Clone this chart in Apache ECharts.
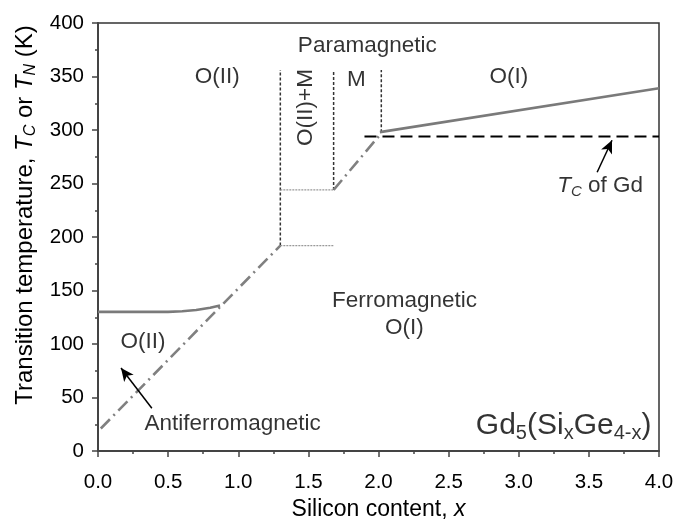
<!DOCTYPE html>
<html>
<head>
<meta charset="utf-8">
<script src="https://cdn.jsdelivr.net/npm/echarts@6/dist/echarts.min.js"></script>
<style>
  html, body { margin: 0; padding: 0; background: #fff; }
  #chart { width: 674px; height: 523px; }
</style>
</head>
<body>
<div id="chart"></div>
<script>
// Phase boundaries of Gd5(SixGe4-x): x = Si content, y = temperature (K)
const afmBoundary      = [[0.0, 130], [0.5, 130], [0.6, 130.6], [0.7, 131.8], [0.8, 133.8], [0.87, 136]];
const lowerTransition  = [[0.02, 21], [1.3, 192]];
const upperTransition  = [[1.68, 244], [2.02, 297]];
const oiBoundary       = [[2.01, 298], [4.0, 339]];
const gdCurie          = [[1.9, 294], [4.0, 294]];
const phaseEdgeX       = [1.3, 1.68, 2.02];
const phaseEdgeBottom  = [192, 244, 298];
const phaseEdgeTop     = 356;
const mixedStepY       = [192, 244];
const xTickLabels      = ['0.0', '0.5', '1.0', '1.5', '2.0', '2.5', '3.0', '3.5', '4.0'];
const yTickLabels      = ['0', '50', '100', '150', '200', '250', '300', '350', '400'];

const FONT = '"Liberation Sans", Arial, Helvetica, sans-serif';

function richFor(size) {
  const sub = { fontSize: Math.round(size * 0.66), fontFamily: FONT, color: '#000',
                padding: [Math.round(size * 0.52), 0, 0, 0] };
  return {
    i:    { fontSize: size, fontStyle: 'italic', fontFamily: FONT, color: '#000' },
    isub: Object.assign({}, sub, { fontStyle: 'italic' }),
    sub:  sub
  };
}

// Text annotations placed in data coordinates
const notes = [
  { at: [1.92, 379], text: 'Paramagnetic' },
  { at: [0.85, 350], text: 'O(II)' },
  { at: [1.48, 321], text: 'O(II)+M', rotate: 90 },
  { at: [1.843, 347], text: 'M' },
  { at: [2.93, 350], text: 'O(I)' },
  { at: [2.185, 128], text: 'Ferromagnetic\nO(I)', lineHeight: 27 },
  { at: [0.32, 102], text: 'O(II)' },
  { at: [0.96, 25], text: 'Antiferromagnetic' },
  { at: [3.58, 248], text: '{i|T}{isub|C} of Gd' },
  { at: [3.32, 24], text: 'Gd{sub|5}(Si{sub|x}Ge{sub|4-x})', size: 30 }
];

const arrows = [
  [[0.384, 40], [0.164, 77.5]],
  [[3.559, 260.5], [3.665, 290.4]]
];

const dotted = { color: '#333', width: 1.5, type: [3, 2] };
const series = [];

function addLine(data, lineStyle, z) {
  series.push({
    type: 'line', data: data, showSymbol: false, symbol: 'none',
    lineStyle: lineStyle, z: z || 3, silent: true, animation: false
  });
}

// vertical phase edges
phaseEdgeX.forEach((x, k) => addLine([[x, phaseEdgeBottom[k]], [x, phaseEdgeTop]], dotted, 2));
// fine steps between the two transition lines
mixedStepY.forEach(y => addLine([[phaseEdgeX[0], y], [phaseEdgeX[1], y]],
  { color: '#999', width: 1.2, type: [2, 1] }, 2));

addLine(afmBoundary, { color: '#7a7a7a', width: 2.6 });
addLine(oiBoundary, { color: '#7a7a7a', width: 2.6 });
addLine(lowerTransition, { color: '#808080', width: 2.6, type: [13, 5, 2, 5] });
addLine(upperTransition, { color: '#808080', width: 2.6, type: [13, 5, 2, 5] });
addLine(gdCurie, { color: '#000', width: 2, type: [12, 6] }, 4);

// arrows
series.push({
  type: 'line', data: [], silent: true, animation: false,
  markLine: {
    silent: true, animation: false,
    symbol: ['none', 'arrow'], symbolSize: [9, 13],
    label: { show: false },
    lineStyle: { color: '#000', width: 1.5, type: 'solid' },
    data: arrows.map(a => [{ coord: a[0] }, { coord: a[1] }])
  }
});

// annotation text
notes.forEach(n => {
  const size = n.size || 22.5;
  series.push({
    type: 'scatter', data: [n.at], symbolSize: 0, silent: true, animation: false, z: 10,
    label: {
      show: true, position: 'inside', formatter: n.text,
      rotate: n.rotate || 0,
      fontFamily: FONT, fontSize: size, color: '#000',
      lineHeight: n.lineHeight,
      align: 'center', verticalAlign: 'middle',
      rich: richFor(size)
    }
  });
});

const chart = echarts.init(document.getElementById('chart'), null, { renderer: 'canvas' });
chart.setOption({
  animation: false,
  backgroundColor: '#fff',
  grid: {
    left: 98, right: 15, top: 23, bottom: 72,
    containLabel: false, outerBoundsMode: 'none',
    show: true, borderColor: '#333', borderWidth: 1.5, backgroundColor: 'transparent'
  },
  xAxis: {
    type: 'value', min: 0, max: 4, interval: 0.5,
    name: 'Silicon content, {i|x}', nameLocation: 'middle', nameGap: 44,
    nameTextStyle: { fontFamily: FONT, fontSize: 23, color: '#000', rich: richFor(23) },
    axisLine: { show: true, lineStyle: { color: '#444', width: 2 } },
    axisTick: { show: true, inside: false, length: 6, lineStyle: { color: '#444', width: 1.5 } },
    minorTick: { show: true, splitNumber: 2, length: 3, lineStyle: { color: '#444', width: 1.5 } },
    splitLine: { show: false },
    axisLabel: {
      fontFamily: FONT, fontSize: 20.5, color: '#000', margin: 21,
      formatter: v => xTickLabels[Math.round(v / 0.5)]
    }
  },
  yAxis: {
    type: 'value', min: 0, max: 400, interval: 50,
    name: 'Transition temperature, {i|T}{isub|C} or {i|T}{isub|N} (K)',
    nameLocation: 'middle', nameGap: 57, nameRotate: 90,
    nameTextStyle: { fontFamily: FONT, fontSize: 24, color: '#000', rich: richFor(24),
                     padding: [0, 0, 0, 44] },
    axisLine: { show: true, lineStyle: { color: '#444', width: 2 } },
    axisTick: { show: true, inside: false, length: 6, lineStyle: { color: '#444', width: 1.5 } },
    minorTick: { show: true, splitNumber: 2, length: 3, lineStyle: { color: '#444', width: 1.5 } },
    splitLine: { show: false },
    axisLabel: {
      fontFamily: FONT, fontSize: 20.5, color: '#000', margin: 14,
      formatter: v => yTickLabels[Math.round(v / 50)]
    }
  },
  series: series
});
</script>
</body>
</html>
